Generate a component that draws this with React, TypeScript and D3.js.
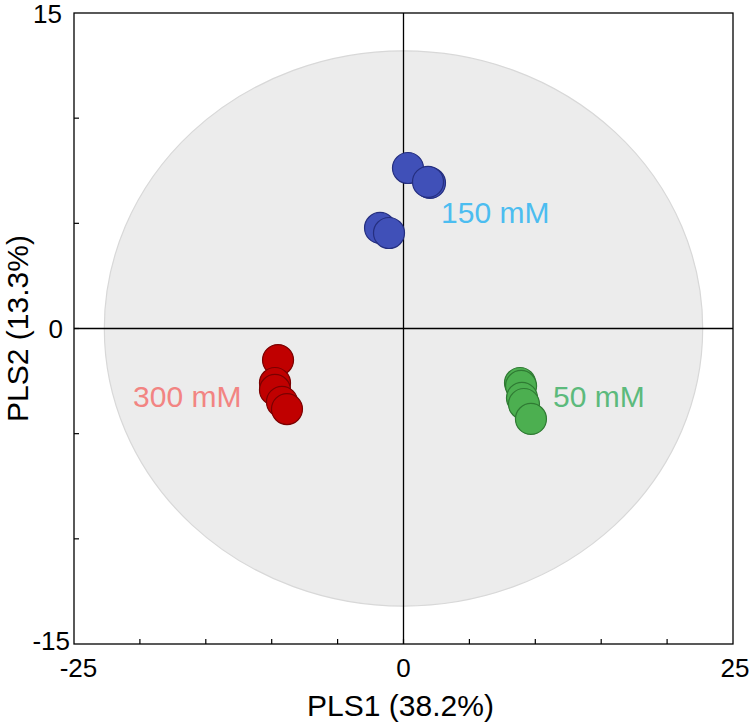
import React from "react";
import * as d3 from "d3";

const groups = ["150 mM", "300 mM", "50 mM"];
const blueX = [0.34, 2.01, 1.86, -1.78, -1.1];
const blueY = [7.63, 6.92, 6.97, 4.78, 4.54];
const redX = [-9.52, -9.75, -9.75, -9.22, -8.84];
const redY = [-1.5, -2.59, -2.92, -3.49, -3.83];
const greenX = [8.84, 8.92, 8.99, 9.14, 9.67];
const greenY = [-2.59, -2.73, -3.3, -3.59, -4.3];
const labelPos = [
  [2.85, 5.02],
  [-20.52, -3.73],
  [11.34, -3.73],
];
const xTicks = [-25, -20, -15, -10, -5, 0, 5, 10, 15, 20, 25];
const yTicks = [-15, -10, -5, 0, 5, 10, 15];
const xTickLabels = [-25, 0, 25];
const yTickLabels = [-15, 0, 15];
const ellipseR = [22.7, 13.2];

const W = 750, H = 728;
const left = 74, right = 733, top = 13, bottom = 644;

export default function App() {
  const x = d3.scaleLinear().domain([-25, 25]).range([left, right]);
  const y = d3.scaleLinear().domain([-15, 15]).range([bottom, top]);
  const font = "Arial, 'Liberation Sans', sans-serif";
  const series = [
    { xs: blueX, ys: blueY, fill: "#4050b8", stroke: "#252f80", label: "#4cbdf0" },
    { xs: redX, ys: redY, fill: "#c00000", stroke: "#7a0000", label: "#f28482" },
    { xs: greenX, ys: greenY, fill: "#4caf50", stroke: "#2f7a33", label: "#5cba7c" },
  ];
  const r = 15.5;
  const yLabelAttrs = (t: number) => {
    if (t === 15) return { x: 62, y: 23 };
    if (t === -15) return { x: 70, y: 650 };
    return { x: 63, y: y(t) + 9 };
  };
  const xLabelX = (t: number) => (t === -25 ? 78.5 : t === 25 ? 735 : x(t));
  return (
    <svg width={W} height={H} style={{ position: "absolute", left: 0, top: 0 }} fontFamily={font}>
      <rect width={W} height={H} fill="#fff" />
      <ellipse
        cx={x(0)}
        cy={y(0)}
        rx={x(ellipseR[0]) - x(0)}
        ry={y(0) - y(ellipseR[1])}
        fill="#ececec"
        stroke="#d8d8d8"
        strokeWidth={1.2}
      />
      <line x1={x(0)} x2={x(0)} y1={top} y2={bottom} stroke="#000" strokeWidth={1.3} />
      <line x1={left} x2={right} y1={y(0)} y2={y(0)} stroke="#000" strokeWidth={1.3} />
      {series.map((s, si) =>
        s.xs.map((v, i) => (
          <circle key={si + "-" + i} cx={x(v)} cy={y(s.ys[i])} r={r} fill={s.fill} stroke={s.stroke} strokeWidth={1.2} />
        ))
      )}
      {groups.map((g, i) => (
        <text key={g} x={x(labelPos[i][0])} y={y(labelPos[i][1])} fill={series[i].label} fontSize={30}>
          {g}
        </text>
      ))}
      <rect x={left} y={top} width={right - left} height={bottom - top} fill="none" stroke="#000" strokeWidth={1.3} />
      {xTicks.slice(1, -1).map((t) => (
        <line key={"xt" + t} x1={x(t)} x2={x(t)} y1={bottom} y2={bottom - 5} stroke="#000" strokeWidth={1.2} />
      ))}
      {yTicks.slice(1, -1).map((t) => (
        <line key={"yt" + t} x1={left} x2={left + 5} y1={y(t)} y2={y(t)} stroke="#000" strokeWidth={1.2} />
      ))}
      {yTickLabels.map((t) => {
        const a = yLabelAttrs(t);
        return (
          <text key={"yl" + t} x={a.x} y={a.y} textAnchor="end" fontSize={26}>
            {t}
          </text>
        );
      })}
      {xTickLabels.map((t) => (
        <text key={"xl" + t} x={xLabelX(t)} y={677} textAnchor="middle" fontSize={26}>
          {t}
        </text>
      ))}
      <text x={x(0) - 3} y={716} textAnchor="middle" fontSize={30}>
        PLS1 (38.2%)
      </text>
      <text transform={`translate(28,${y(0)}) rotate(-90)`} textAnchor="middle" fontSize={30}>
        PLS2 (13.3%)
      </text>
    </svg>
  );
}
